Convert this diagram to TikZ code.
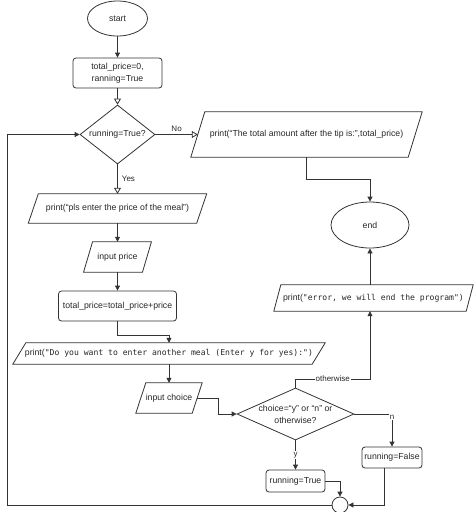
\documentclass[tikz,border=0pt]{standalone}
\usepackage{fontspec}
\setmainfont{Liberation Sans}
\newfontfamily\monof{DejaVu Sans Mono}
\usetikzlibrary{shapes.geometric,arrows.meta,calc}
\newcommand\mono[1]{{\monof\fontsize{8.1}{12}\selectfont #1}}
\newcommand\drawpara[2]{\draw[ln] ([xshift=#2pt]#1.north west) -- ([xshift=#2pt]#1.north east) -- ([xshift=-#2pt]#1.south east) -- ([xshift=-#2pt]#1.south west) -- cycle;}
\tikzset{
  ln/.style={draw=black!80, line width=0.8pt},
  fa/.style={ln, -{Triangle[length=5pt,width=5pt]}},
  ha/.style={ln, -{Triangle[open,length=6pt,width=7pt,fill=white]}},
  txt/.style={font=\fontsize{8.7}{12}\selectfont, text=black!85, align=center, inner sep=0pt},
  box/.style={txt, rectangle, draw=black!80, line width=0.8pt, rounded corners=3pt},
  para/.style={txt, rectangle},
  oval/.style={txt, ellipse, draw=black!80, line width=0.8pt},
  dmd/.style={diamond, draw=black!80, line width=0.8pt, inner sep=0pt},
  lbl/.style={font=\fontsize{8}{9}\selectfont, text=black!85, inner sep=1pt},
}
\begin{document}
\begin{tikzpicture}[x=1pt,y=-1pt]
\useasboundingbox (0,0) rectangle (474,512);
\clip (0,0) rectangle (474,512);
% nodes
\node[oval, minimum width=60, minimum height=35] (start) at (117.5,18.5) {start};
\node[box, minimum width=89, minimum height=30] (init) at (117.5,73) {total\_price=0,\\ranning=True};
\node[dmd, minimum width=75, minimum height=59, aspect=1.27] (dia) at (117.5,134.5) {};
\node[txt] (diat) at (dia.center) {running=True?};
\node[para, minimum width=217, minimum height=45] (tp) at (306.5,134.5) {print(“The total amount after the tip is:”,total\_price)};
\node[oval, minimum width=78, minimum height=46] (end) at (370,225) {end};
\node[para, minimum width=192, minimum height=26] (err) at (373.5,298) {print(\mono{"error, we will end the program")}};
\node[para, minimum width=168, minimum height=29] (pls) at (117.5,208.5) {print(“pls enter the price of the meal”)};
\node[para, minimum width=58.5, minimum height=30] (ip) at (117.5,257) {input price};
\node[box, minimum width=118, minimum height=30] (tb) at (117.5,306) {total\_price=total\_price+price};
\node[para, minimum width=299, minimum height=21] (pd) at (169,353.5) {print(\mono{"Do you want to enter another meal (Enter y for yes):")}};
\node[para, minimum width=56, minimum height=30] (ic) at (169,398) {input choice};
\node[dmd, minimum width=117, minimum height=52, aspect=2.25] (ch) at (295.5,414) {};
\node[txt] (cht) at (ch.center) {choice=“y” or “n” or\\otherwise?};
\node[box, minimum width=59, minimum height=22] (rt) at (295.5,481) {running=True};
\node[box, minimum width=60, minimum height=21] (rf) at (392,457.5) {running=False};
\node[circle, draw=black!80, line width=0.8pt, minimum size=16, inner sep=0pt] (cj) at (340,505) {};
% parallelogram outlines
\drawpara{tp}{7}
\drawpara{err}{3.5}
\drawpara{pls}{5}
\drawpara{ip}{4.5}
\drawpara{pd}{6.5}
\drawpara{ic}{5}
% connectors
\coordinate (owc) at (370,379);
\coordinate (lp) at (7,0);
\draw[fa] (start.south) -- (init.north);
\draw[ha] (init.south) -- (dia.north);
\draw[ha] (dia.east) -- node[lbl, above=2pt]{No} (tp.west);
\draw[ha] (dia.south) -- node[lbl, right=3pt]{Yes} (pls.north);
\draw[fa] (tp.south) -- ++(0,22) -| (end.north);
\draw[fa] (end.south |- err.north) -- (end.south);
\draw[fa] (pls.south) -- (ip.north);
\draw[fa] (ip.south) -- (tb.north);
\draw[fa] (tb.south) -- ++(0,14) -| (pd.north);
\draw[fa] (pd.south) -- (ic.north);
\draw[fa] (ic.east) -- ++(21,0) |- (ch.west);
\draw[fa] (ch.north) |- node[pos=0.75, lbl, fill=white]{otherwise} (owc) -- (owc |- err.south);
\draw[fa] (ch.south) -- node[lbl, fill=white]{y} (rt.north);
\draw[fa] (ch.east) -| node[pos=0.55, lbl, fill=white]{n} (rf.north);
\draw[fa] (rt.east) -| (cj.north);
\draw[fa] ([xshift=-8pt]rf.south) |- (cj.east);
\draw[fa] (cj.west) -- (cj.west -| lp) |- (dia.west);
\end{tikzpicture}
\end{document}
